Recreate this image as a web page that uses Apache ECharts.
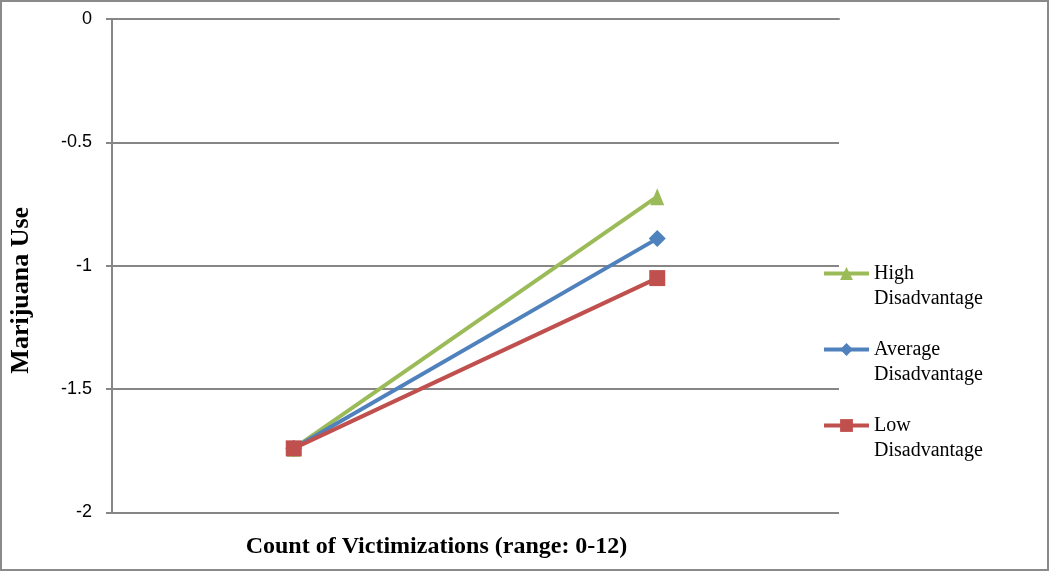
<!DOCTYPE html>
<html>
<head>
<meta charset="utf-8">
<script src="https://cdn.jsdelivr.net/npm/echarts@6/dist/echarts.min.js"></script>
<style>
  html, body { margin: 0; padding: 0; background: #fff; }
  #chart { width: 1050px; height: 572px; }
</style>
</head>
<body>
<div id="chart"></div>
<script>
  const categories = ['Low', 'High']
  const highData = [-1.74, -0.72]
  const averageData = [-1.74, -0.89]
  const lowData = [-1.74, -1.05]
  const yTicks = { min: -2, max: 0, interval: 0.5 }

  const chart = echarts.init(document.getElementById('chart'))
  const serif = '"Liberation Serif", "DejaVu Serif", serif'
  const gray = '#868686'

  const makeSeries = (name, data, color, symbol, size) => ({
    name,
    type: 'line',
    data,
    symbol,
    symbolSize: size,
    lineStyle: { width: 4, color },
    itemStyle: { color },
    emphasis: { disabled: true }
  })

  chart.setOption({
    animation: false,
    grid: {
      left: 112,
      right: 211,
      top: 19,
      bottom: 59.5,
      outerBoundsMode: 'none'
    },
    graphic: [{
      type: 'rect',
      shape: { x: 1, y: 1, width: 1047, height: 569 },
      style: { fill: 'none', stroke: '#8a8a8a', lineWidth: 2 },
      silent: true
    }],
    legend: {
      orient: 'vertical',
      left: 822,
      top: 236,
      padding: 0,
      itemWidth: 45,
      itemHeight: 16,
      itemGap: 1,
      lineStyle: { width: 4 },
      // empty first line keeps the icon level with the first text line
      formatter: (name) => ' \n' + name.replace(' ', '\n'),
      textStyle: {
        fontFamily: serif,
        fontSize: 20,
        color: '#000',
        lineHeight: 25
      }
    },
    xAxis: {
      type: 'category',
      data: categories,
      boundaryGap: true,
      name: 'Count of Victimizations (range: 0-12)',
      nameLocation: 'middle',
      nameGap: 22,
      nameTextStyle: {
        fontFamily: serif,
        fontSize: 24,
        fontWeight: 'bold',
        color: '#000',
        padding: [0, 78, 0, 0]
      },
      axisLine: { show: true, lineStyle: { color: gray, width: 2 } },
      axisTick: { show: false },
      axisLabel: { show: false },
      splitLine: { show: false }
    },
    yAxis: {
      type: 'value',
      min: yTicks.min,
      max: yTicks.max,
      interval: yTicks.interval,
      name: 'Marijuana Use',
      nameLocation: 'middle',
      nameGap: 78,
      nameTextStyle: {
        fontFamily: serif,
        fontSize: 26,
        fontWeight: 'bold',
        color: '#000',
        padding: [0, 49, 0, 0]
      },
      axisLine: { show: true, lineStyle: { color: gray, width: 2 } },
      axisTick: { show: true, length: 6, lineStyle: { color: gray, width: 2 } },
      axisLabel: {
        fontFamily: '"Liberation Sans", Arial, sans-serif',
        fontSize: 18,
        color: '#000',
        margin: 20
      },
      splitLine: { show: true, lineStyle: { color: gray, width: 2 } }
    },
    series: [
      makeSeries('High Disadvantage', highData, '#9BBB59', 'triangle', [14, 17]),
      makeSeries('Average Disadvantage', averageData, '#4F81BD', 'diamond', 17),
      makeSeries('Low Disadvantage', lowData, '#C0504D', 'rect', 16)
    ]
  })
</script>
</body>
</html>
